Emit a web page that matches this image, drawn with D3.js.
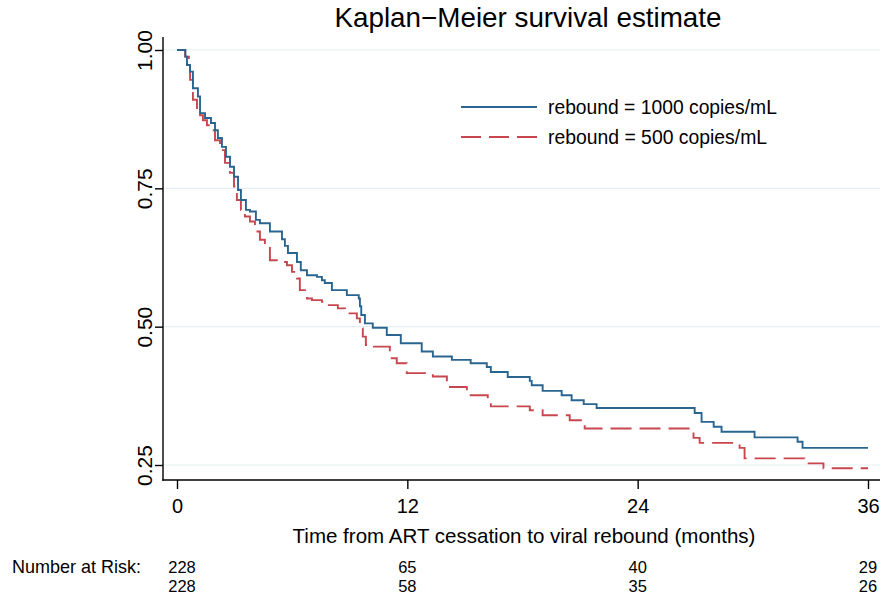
<!DOCTYPE html>
<html>
<head>
<meta charset="utf-8">
<script src="https://cdn.jsdelivr.net/npm/d3@7"></script>
<style>
  html, body { margin: 0; padding: 0; background: #fff; }
  svg { display: block; font-family: "Liberation Sans", Arial, Helvetica, sans-serif; }
</style>
</head>
<body>
<svg id="chart" width="889" height="598"></svg>
<script>
// ---- data ----
const title = "Kaplan\u2212Meier survival estimate";
const xTitle = "Time from ART cessation to viral rebound (months)";
const xTicks = [0, 12, 24, 36];
const yTicks = [0.25, 0.50, 0.75, 1.00];
const yTickLabels = ["0.25", "0.50", "0.75", "1.00"];
const seriesNames = ["rebound = 1000 copies/mL", "rebound = 500 copies/mL"];

const months1000 = [0, 0.44, 0.52, 0.68, 0.83, 1.09, 1.20, 1.46, 1.77, 1.98, 2.13, 2.34, 2.55, 2.76, 2.97, 3.18, 3.33, 3.59, 3.80, 4.11, 4.32, 4.84, 5.47, 5.62, 5.78, 6.25, 6.45, 6.77, 7.29, 7.55, 7.70, 8.07, 8.85, 9.47, 9.53, 9.60, 9.79, 10.20, 10.93, 11.66, 12.75, 13.33, 14.32, 15.30, 16.14, 16.35, 17.23, 18.38, 18.48, 19.05, 20.04, 20.56, 21.19, 21.86, 26.97, 27.33, 27.96, 28.37, 30.09, 32.33, 32.59, 36];
const surv1000   = [1.000, 0.988, 0.973, 0.961, 0.931, 0.916, 0.886, 0.877, 0.868, 0.855, 0.841, 0.825, 0.807, 0.789, 0.771, 0.747, 0.729, 0.711, 0.708, 0.693, 0.687, 0.672, 0.658, 0.646, 0.633, 0.617, 0.602, 0.593, 0.590, 0.584, 0.579, 0.566, 0.557, 0.551, 0.537, 0.521, 0.506, 0.498, 0.485, 0.470, 0.455, 0.446, 0.440, 0.434, 0.427, 0.418, 0.409, 0.402, 0.394, 0.384, 0.376, 0.367, 0.360, 0.353, 0.344, 0.328, 0.319, 0.310, 0.300, 0.292, 0.281, 0.281];

const months500 = [0, 0.42, 0.62, 0.68, 0.83, 1.04, 1.20, 1.35, 1.56, 1.72, 1.98, 2.24, 2.50, 2.76, 2.97, 3.12, 3.33, 3.54, 3.80, 4.06, 4.32, 4.58, 4.84, 5.47, 5.73, 5.99, 6.25, 6.40, 6.77, 7.03, 7.55, 7.70, 8.38, 8.75, 9.37, 9.53, 9.68, 9.84, 10.26, 11.09, 11.45, 11.97, 13.33, 14.06, 15.10, 16.19, 16.35, 18.38, 19.05, 20.46, 21.24, 26.91, 27.23, 29.31, 29.57, 32.69, 33.68, 36];
const surv500   = [1.000, 0.988, 0.970, 0.946, 0.910, 0.892, 0.882, 0.873, 0.864, 0.855, 0.837, 0.819, 0.796, 0.778, 0.753, 0.729, 0.711, 0.699, 0.690, 0.672, 0.657, 0.644, 0.620, 0.617, 0.611, 0.599, 0.587, 0.566, 0.551, 0.548, 0.545, 0.539, 0.533, 0.524, 0.515, 0.497, 0.482, 0.467, 0.464, 0.443, 0.434, 0.416, 0.410, 0.391, 0.376, 0.364, 0.356, 0.349, 0.340, 0.331, 0.316, 0.299, 0.290, 0.281, 0.262, 0.253, 0.244, 0.244];

const riskLabel = "Number at Risk:";
const risk1000 = [228, 65, 40, 29];
const risk500  = [228, 58, 35, 26];

// ---- styles ----
const blue = "#2a6590";
const red = "#c8474f";
const svg = d3.select("#chart");

const x = d3.scaleLinear().domain([0, 36]).range([177, 868]);
const y = d3.scaleLinear().domain([0.25, 1]).range([465, 50]);

function fitText(sel, targetWidth) {
  const node = sel.node();
  const w = node.getComputedTextLength();
  const fs = parseFloat(sel.attr("font-size"));
  if (w > 0) sel.attr("font-size", (fs * targetWidth / w).toFixed(2));
  return sel;
}

// gridlines
svg.append("g").selectAll("line").data(yTicks).join("line")
  .attr("x1", 164).attr("x2", 880)
  .attr("y1", d => y(d)).attr("y2", d => y(d))
  .attr("stroke", "#e6eff1").attr("stroke-width", 1.2);

// axes
const xAxis = d3.axisBottom(x).tickValues(xTicks).tickSize(9).tickSizeOuter(0).tickFormat(d3.format("d"));
const gx = svg.append("g").attr("transform", "translate(0,480)").call(xAxis);
gx.select(".domain").remove();
gx.selectAll(".tick line").attr("stroke", "#000").attr("stroke-width", 1.4);
gx.selectAll(".tick text").attr("font-size", 20).attr("fill", "#000").attr("y", 33).attr("dy", 0)
  .attr("font-family", "'Liberation Sans', Arial, sans-serif");

const yAxis = d3.axisLeft(y).tickValues(yTicks).tickSize(8).tickSizeOuter(0).tickFormat((d, i) => yTickLabels[i]);
const gy = svg.append("g").attr("transform", "translate(163,0)").call(yAxis);
gy.select(".domain").remove();
gy.selectAll(".tick line").attr("stroke", "#000").attr("stroke-width", 1.4);
gy.selectAll(".tick text")
  .attr("font-size", 21).attr("fill", "#000")
  .attr("font-family", "'Liberation Sans', Arial, sans-serif")
  .attr("text-anchor", "middle").attr("x", 0).attr("dy", 0)
  .attr("transform", "translate(-11,0) rotate(-90)");

svg.append("line").attr("x1", 163).attr("x2", 163).attr("y1", 37).attr("y2", 480.7)
  .attr("stroke", "#000").attr("stroke-width", 1.4);
svg.append("line").attr("x1", 162.3).attr("x2", 880).attr("y1", 480).attr("y2", 480)
  .attr("stroke", "#000").attr("stroke-width", 1.4);

// curves
const line = d3.line().x(d => x(d[0])).y(d => y(d[1])).curve(d3.curveStepAfter);
const d1000 = months1000.map((m, i) => [m, surv1000[i]]);
const d500 = months500.map((m, i) => [m, surv500[i]]);

svg.append("path").datum(d500).attr("d", line)
  .attr("fill", "none").attr("stroke", red).attr("stroke-width", 1.9)
  .attr("stroke-dasharray", "21,8");
svg.append("path").datum(d1000).attr("d", line)
  .attr("fill", "none").attr("stroke", blue).attr("stroke-width", 1.9);

// legend
const legend = svg.append("g");
legend.append("line").attr("x1", 461).attr("x2", 537).attr("y1", 107).attr("y2", 107)
  .attr("stroke", blue).attr("stroke-width", 1.9);
legend.append("line").attr("x1", 461).attr("x2", 537).attr("y1", 137).attr("y2", 137)
  .attr("stroke", red).attr("stroke-width", 1.9).attr("stroke-dasharray", "20,8");
fitText(legend.append("text").attr("x", 548).attr("y", 114).attr("font-size", 19).text(seriesNames[0]), 229);
fitText(legend.append("text").attr("x", 548).attr("y", 144).attr("font-size", 19).text(seriesNames[1]), 219);

// title
fitText(svg.append("text").attr("x", 528).attr("y", 27).attr("text-anchor", "middle")
  .attr("font-size", 26).text(title), 387);

// x title
fitText(svg.append("text").attr("x", 524).attr("y", 543).attr("text-anchor", "middle")
  .attr("font-size", 18).text(xTitle), 463);

// number at risk
fitText(svg.append("text").attr("x", 12).attr("y", 573).attr("font-size", 16).text(riskLabel), 129);
svg.append("g").selectAll("text").data(risk1000).join("text")
  .attr("x", (d, i) => x(xTicks[i]) + (i === 0 ? 5 : 0)).attr("y", 573)
  .attr("text-anchor", "middle").attr("font-size", 16.5).text(d => d);
svg.append("g").selectAll("text").data(risk500).join("text")
  .attr("x", (d, i) => x(xTicks[i]) + (i === 0 ? 5 : 0)).attr("y", 592)
  .attr("text-anchor", "middle").attr("font-size", 16.5).text(d => d);
</script>
</body>
</html>
